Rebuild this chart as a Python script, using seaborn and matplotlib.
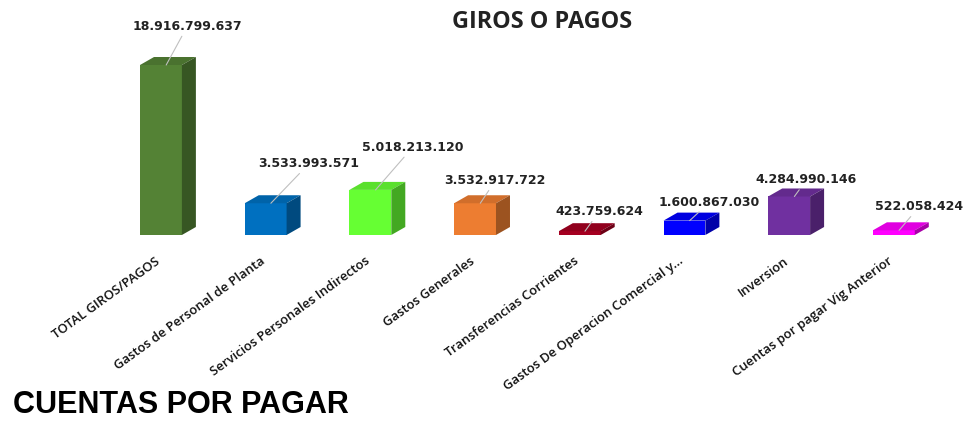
import matplotlib
matplotlib.use("Agg")
import matplotlib.pyplot as plt
import matplotlib.colors as mcolors
import matplotlib.transforms as mtransforms
from matplotlib.patches import Polygon
import seaborn as sns
import pandas as pd
import numpy as np

categories = [
    "TOTAL GIROS/PAGOS",
    "Gastos de Personal de Planta",
    "Servicios Personales Indirectos",
    "Gastos Generales",
    "Transferencias Corrientes",
    "Gastos De Operacion Comercial y...",
    "Inversion",
    "Cuentas por pagar Vig Anterior",
]
values = [18916799637, 3533993571, 5018213120, 3532917722,
          423759624, 1600867030, 4284990146, 522058424]
value_labels = ["18.916.799.637", "3.533.993.571", "5.018.213.120", "3.532.917.722",
                "423.759.624", "1.600.867.030", "4.284.990.146", "522.058.424"]
colors = ["#548235", "#0070C0", "#66FF33", "#ED7D31",
          "#A50021", "#0000FF", "#7030A0", "#FF00FF"]
# label offsets in pixels (dx, dy) from bar top
label_offsets = [(21, 32), (38, 33), (37, 36), (15, 16), (14, 13), (20, 12), (12, 10), (20, 17)]

sns.set_theme(style="white")
plt.rcParams["font.family"] = ["DejaVu Sans"]

fig = plt.figure(figsize=(9.65, 4.21), dpi=100)
ax = fig.add_axes([108.6 / 965, 186 / 421, 837.6 / 965, 200 / 421])

df = pd.DataFrame({"cat": categories, "val": values})
sns.barplot(data=df, x="cat", y="val", hue="cat", palette=colors, legend=False,
            width=0.4, saturation=1, ax=ax, edgecolor="none")

ax.set_xlim(-0.5, len(categories) - 0.5)
ax.set_ylim(0, max(values) * 200 / 170)
for s in ax.spines.values():
    s.set_visible(False)
ax.set_yticks([])
ax.set_xlabel("")
ax.set_ylabel("")
ax.tick_params(axis="x", length=0, pad=14)
ax.set_xticks(range(len(categories)))
ax.set_xticklabels(categories, rotation=36, ha="right", rotation_mode="anchor",
                   fontsize=9.4, color="#111111", fontweight="semibold",
                   family=["Open Sans", "DejaVu Sans"])
shift = mtransforms.ScaledTranslation(-6 / 100, 0, fig.dpi_scale_trans)
for lab in ax.get_xticklabels():
    lab.set_transform(lab.get_transform() + shift)

fig.canvas.draw()
DX, DY = 14, 8
tr = ax.transData
inv = tr.inverted()


def shade(c, f):
    r, g, b = mcolors.to_rgb(c)
    return (r * f, g * f, b * f)


for p, c in zip(ax.patches, colors):
    x0 = p.get_x()
    x1 = x0 + p.get_width()
    h = p.get_height()
    (px0, py0), (px1, py1) = tr.transform([(x0, 0), (x1, h)])
    top = inv.transform([(px0, py1), (px1, py1), (px1 + DX, py1 + DY), (px0 + DX, py1 + DY)])
    side = inv.transform([(px1, py0), (px1 + DX, py0 + DY), (px1 + DX, py1 + DY), (px1, py1)])
    ax.add_patch(Polygon(top, closed=True, facecolor=shade(c, 0.88), edgecolor="none", clip_on=False))
    ax.add_patch(Polygon(side, closed=True, facecolor=shade(c, 0.66), edgecolor="none", clip_on=False))

for i, (v, lab, off) in enumerate(zip(values, value_labels, label_offsets)):
    ax.annotate(lab, xy=(i + 0.05, v), xytext=off, textcoords="offset pixels",
                ha="center", va="bottom", fontsize=9.0, fontweight="bold", color="#222222",
                arrowprops=dict(arrowstyle="-", color="#bfbfbf", lw=0.8, shrinkA=0, shrinkB=0),
                annotation_clip=False)

fig.text(542 / 965, 1 - 22 / 421, "GIROS O PAGOS", ha="center", va="center",
         fontsize=16.8, fontweight="bold", color="#222222",
         family=["Open Sans", "DejaVu Sans"])
fig.text(13 / 965, 1 / 421, "CUENTAS POR PAGAR", ha="left", va="bottom",
         fontsize=22, fontweight="bold", color="#000000",
         family=["Liberation Sans", "DejaVu Sans"])

fig.savefig("out.png", dpi=100)
